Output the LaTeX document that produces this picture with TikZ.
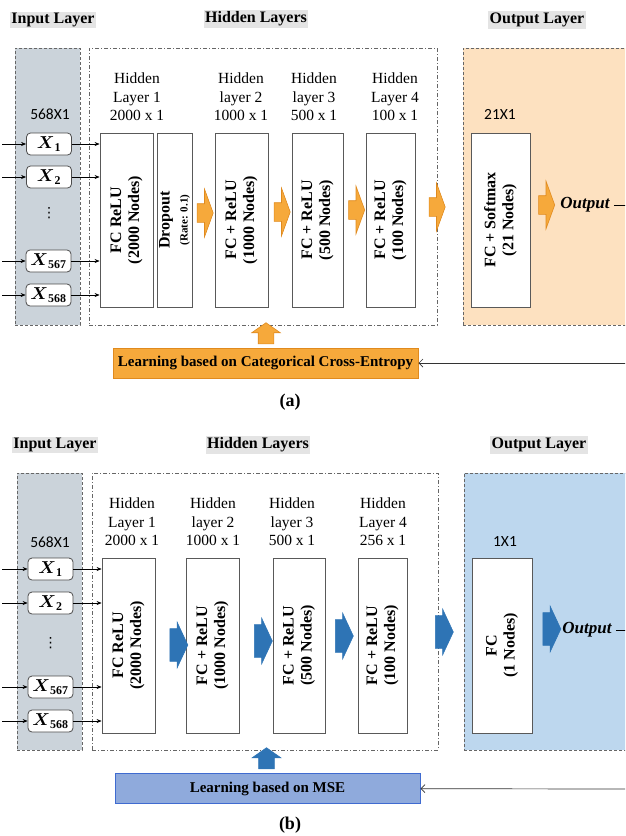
\documentclass[tikz,border=0pt]{standalone}
\usepackage{amsmath}
\usepackage{fontspec}
\setmainfont{Liberation Serif}
\newfontfamily\dimfont{Carlito}
\newfontfamily\symfont{DejaVu Sans}
\usetikzlibrary{shapes.arrows,arrows.meta}

\definecolor{ingray}{HTML}{CBD3DA}
\definecolor{labelgray}{HTML}{E4E4E4}
\definecolor{outorange}{HTML}{FDE1C0}
\definecolor{orangearrow}{HTML}{F6A93B}
\definecolor{orangedark}{HTML}{E08A1E}
\definecolor{outblue}{HTML}{BDD7EE}
\definecolor{bluearrow}{HTML}{2E74B5}
\definecolor{learnblue}{HTML}{8FAADC}
\definecolor{learnbluedark}{HTML}{3F6BD0}

\tikzset{
  laytitle/.style={fill=labelgray,inner sep=1.5pt,font=\fontsize{16}{18}\selectfont\bfseries},
  inregion/.style={draw=black!60,line width=0.7pt,dash pattern=on 3pt off 2pt,fill=ingray,
    minimum width=65pt,minimum height=277pt,inner sep=0},
  hidregion/.style={draw=black!60,line width=0.7pt,dash pattern=on 4pt off 2pt on 1pt off 2pt,
    minimum height=277pt,inner sep=0},
  outregion/.style={draw=black!60,line width=0.7pt,dash pattern=on 3pt off 2pt,
    minimum height=277pt,inner sep=0},
  dimtext/.style={inner sep=0,font=\dimfont\fontsize{15.5}{15.5}\selectfont},
  layertext/.style={inner sep=0,align=center,font=\fontsize{15.5}{18.5}\selectfont},
  xbox/.style={draw=black!70,line width=0.8pt,fill=white,rounded corners=4pt,
    minimum width=45pt,minimum height=22pt,inner sep=0,font=\fontsize{17}{17}\selectfont},
  vdotsnode/.style={inner sep=0,font=\symfont\fontsize{14}{14}\selectfont},
  layerbox/.style={draw=black!65,line width=0.8pt,fill=white,rotate=90,minimum width=174pt,
    inner sep=0,align=center,font=\fontsize{16}{18}\selectfont\bfseries},
  orarrow/.style={single arrow,draw=orangedark,fill=orangearrow,line width=0.6pt,
    inner xsep=0,inner ysep=9pt,single arrow head extend=14.5pt,
    single arrow tip angle=140,minimum height=16pt},
  blarrow/.style={single arrow,draw=bluearrow,fill=bluearrow,line width=0.6pt,
    inner xsep=0,inner ysep=16pt,single arrow head extend=6.5pt,
    single arrow tip angle=130,minimum height=18pt},
  uparrow/.style={single arrow,shape border rotate=90,line width=0.6pt,
    inner sep=7.5pt,single arrow head extend=6.5pt,
    single arrow tip angle=110,minimum height=18pt},
  learnbox/.style={line width=1pt,minimum height=30pt,inner sep=0,
    font=\fontsize{15}{15}\selectfont\bfseries},
  outtext/.style={inner sep=0,font=\fontsize{17}{17}\selectfont\bfseries\itshape},
  caption/.style={inner sep=0,font=\fontsize{18}{18}\selectfont\bfseries},
  inarrow/.style={-{Stealth[length=5pt,width=4pt]},line width=0.6pt},
  feed/.style={-{Straight Barb[length=4pt,width=8pt]},line width=0.7pt,black!80}
}

\begin{document}
\begin{tikzpicture}[x=1pt,y=-1pt]
\useasboundingbox (0,0) rectangle (625,836);
\clip (0,0) rectangle (625,836);

% (a) classification network
\node[inregion] (inreg-a) at (47.5,186.5) {};
\node[hidregion,minimum width=348pt] (hidreg-a) at (263,186.5) {};
\node[outregion,fill=outorange,minimum width=177pt] (outreg-a) at (551.5,186.5) {};
\node[laytitle] (intit-a) at (53,20) {Input Layer};
\node[laytitle] (hidtit-a) at (256,19) {Hidden Layers};
\node[laytitle] (outtit-a) at (537,20) {Output Layer};

\node[dimtext] (indim-a) at (50,114) {568X1};
\node[xbox] (xa1) at (49,144) {$\boldsymbol{X}_{\mathbf{1}}$};
\node[xbox] (xa2) at (49,177) {$\boldsymbol{X}_{\mathbf{2}}$};
\node[vdotsnode] (dotsa) at (49,213) {⋮};
\node[xbox] (xa567) at (48.5,261) {$\boldsymbol{X}_{\mathbf{567}}$};
\node[xbox] (xa568) at (48.5,295) {$\boldsymbol{X}_{\mathbf{568}}$};

\node[layertext] (ta1) at (137,97) {Hidden\\Layer 1\\2000 x 1};
\node[layertext] (ta2) at (241,97) {Hidden\\layer 2\\1000 x 1};
\node[layertext] (ta3) at (314,97) {Hidden\\layer 3\\500 x 1};
\node[layertext] (ta4) at (395,97) {Hidden\\Layer 4\\100 x 1};
\node[dimtext] (outdim-a) at (500,114) {21X1};

\node[layerbox,minimum height=53pt] (ha1) at (126.5,220) {FC ReLU\\(2000 Nodes)};
\node[layerbox,minimum height=35pt] (dropa) at (174.5,220)
  {Dropout\\{\fontsize{11}{12}\selectfont (Rate: 0.1)}};
\node[layerbox,minimum height=53pt] (ha2) at (241.5,220) {FC + ReLU\\(1000 Nodes)};
\node[layerbox,minimum height=51pt] (ha3) at (317.5,220) {FC + ReLU\\(500 Nodes)};
\node[layerbox,minimum height=49pt] (ha4) at (390.5,220) {FC + ReLU\\(100 Nodes)};
\node[layerbox,minimum height=59pt] (fca) at (500.5,220) {FC + Softmax\\(21 Nodes)};

\node[orarrow] (aa1) at (203.5,213) {};
\node[orarrow] (aa2) at (280.5,212) {};
\node[orarrow] (aa3) at (355,210) {};
\node[orarrow] (aa4) at (435.5,207) {};
\node[orarrow] (aa5) at (545,205) {};
\node[outtext] (outa) at (585,205) {Output};
\coordinate (outa-end) at (635,205);

\coordinate (ina1) at (2,144);
\coordinate (ina2) at (2,177);
\coordinate (ina567) at (2,261);
\coordinate (ina568) at (2,295);
\draw[inarrow] (ina1) -- (xa1);
\draw[inarrow] (ina2) -- (xa2);
\draw[inarrow] (ina567) -- (xa567);
\draw[inarrow] (ina568) -- (xa568);
\draw[inarrow] (xa1.east) -- (xa1.east -| ha1.north);
\draw[inarrow] (xa2.east) -- (xa2.east -| ha1.north);
\draw[inarrow] (xa567.east) -- (xa567.east -| ha1.north);
\draw[inarrow] (xa568.east) -- (xa568.east -| ha1.north);
\draw[line width=0.6pt,shorten <=4pt] (outa) -- (outa-end);

\node[learnbox,fill=orangearrow,draw=orangedark,minimum width=305pt] (learna) at (265.5,363)
  {Learning based on Categorical Cross-Entropy};
\node[uparrow,draw=orangedark,fill=orangearrow] (upa) at (266,336) {};
\coordinate (fba) at (627,363);
\draw[feed] (fba) -- (learna);
\node[caption] (capa) at (290,402) {(a)};

% (b) regression network
\node[inregion] (inreg-b) at (49.5,611.5) {};
\node[hidregion,minimum width=346pt] (hidreg-b) at (265,611.5) {};
\node[outregion,fill=outblue,minimum width=176pt] (outreg-b) at (552,611.5) {};
\node[laytitle] (intit-b) at (55,445) {Input Layer};
\node[laytitle] (hidtit-b) at (258,445) {Hidden Layers};
\node[laytitle] (outtit-b) at (539,445) {Output Layer};

\node[dimtext] (indim-b) at (50,542) {568X1};
\node[xbox] (xb1) at (50.5,569) {$\boldsymbol{X}_{\mathbf{1}}$};
\node[xbox] (xb2) at (50.5,603) {$\boldsymbol{X}_{\mathbf{2}}$};
\node[vdotsnode] (dotsb) at (50.5,643) {⋮};
\node[xbox] (xb567) at (50.5,687) {$\boldsymbol{X}_{\mathbf{567}}$};
\node[xbox] (xb568) at (50.5,721) {$\boldsymbol{X}_{\mathbf{568}}$};

\node[layertext] (tb1) at (132,522) {Hidden\\Layer 1\\2000 x 1};
\node[layertext] (tb2) at (213,522) {Hidden\\layer 2\\1000 x 1};
\node[layertext] (tb3) at (292,522) {Hidden\\layer 3\\500 x 1};
\node[layertext] (tb4) at (383,522) {Hidden\\Layer 4\\256 x 1};
\node[dimtext] (outdim-b) at (505,542) {1X1};

\node[layerbox,minimum height=53pt,minimum width=175pt] (hb1) at (128.5,645.5) {FC ReLU\\(2000 Nodes)};
\node[layerbox,minimum height=53pt,minimum width=175pt] (hb2) at (212.5,645.5) {FC + ReLU\\(1000 Nodes)};
\node[layerbox,minimum height=52pt,minimum width=175pt] (hb3) at (299,645.5) {FC + ReLU\\(500 Nodes)};
\node[layerbox,minimum height=49pt,minimum width=175pt] (hb4) at (382.5,645.5) {FC + ReLU\\(100 Nodes)};
\node[layerbox,minimum height=60pt,minimum width=175pt] (fcb) at (502,645.5) {FC\\(1 Nodes)};

\node[blarrow] (ab1) at (175,645) {};
\node[blarrow] (ab2) at (259.5,641) {};
\node[blarrow] (ab3) at (340.5,636) {};
\node[blarrow] (ab4) at (440.5,632) {};
\node[blarrow] (ab5) at (548,629) {};
\node[outtext] (outb) at (587,630) {Output};
\coordinate (outb-end) at (635,630);

\coordinate (inb1) at (2,569);
\coordinate (inb2) at (2,603);
\coordinate (inb567) at (2,687);
\coordinate (inb568) at (2,721);
\draw[inarrow] (inb1) -- (xb1);
\draw[inarrow] (inb2) -- (xb2);
\draw[inarrow] (inb567) -- (xb567);
\draw[inarrow] (inb568) -- (xb568);
\draw[inarrow] (xb1.east) -- (xb1.east -| hb1.north);
\draw[inarrow] (xb2.east) -- (xb2.east -| hb1.north);
\draw[inarrow] (xb567.east) -- (xb567.east -| hb1.north);
\draw[inarrow] (xb568.east) -- (xb568.east -| hb1.north);
\draw[line width=0.6pt,shorten <=4pt] (outb) -- (outb-end);

\node[learnbox,fill=learnblue,draw=learnbluedark,minimum width=305pt] (learnb) at (267.5,788.5)
  {Learning based on MSE};
\node[uparrow,draw=bluearrow,fill=bluearrow] (upb) at (266.5,761) {};
\coordinate (fbb) at (627,789);
\draw[feed] (fbb) -- (learnb);
\node[caption] (capb) at (290,825) {(b)};
\end{tikzpicture}
\end{document}
